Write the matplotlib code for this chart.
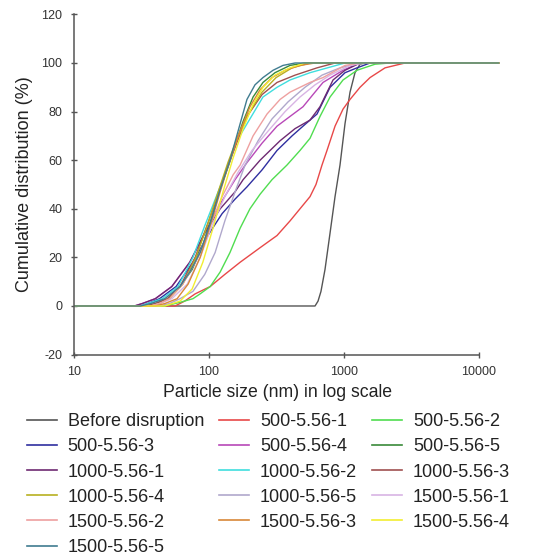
import matplotlib
matplotlib.use("Agg")
import matplotlib.pyplot as plt
from matplotlib.lines import Line2D

plt.rcParams['font.family'] = ['Liberation Sans', 'DejaVu Sans']
plt.rcParams['axes.unicode_minus'] = False

# ---- data (particle size in nm, cumulative distribution in %) ----
before_x = [10, 610, 642, 675, 723, 788, 858, 934, 1017, 1108, 1206, 1314, 1431, 14000]
before_y = [0, 0, 2, 6, 15, 30, 45, 58, 75, 88, 96, 99.5, 100, 100]

s500_1_x = [10, 56, 66, 79, 102, 131, 170, 239, 319, 398, 472, 560, 620, 687, 748, 858, 983, 1108, 1314, 1559, 2013, 2831, 14000]
s500_1_y = [0, 0, 2, 5, 8, 13, 18, 24, 29, 35, 40, 45, 50, 58, 64, 74, 81, 85, 90, 94, 98, 100, 100]

s500_2_x = [10, 47, 61, 76, 86, 102, 121, 143, 170, 201, 239, 293, 378, 472, 560, 664, 788, 983, 1248, 1697, 2191, 14000]
s500_2_y = [0, 0, 1.5, 3, 5, 8, 14, 22, 32, 40, 46, 52, 58, 64, 69, 78, 86, 93, 97, 99.5, 100, 100]

s500_3_x = [10, 31, 35, 43, 57, 76, 98, 125, 156, 191, 247, 319, 412, 497, 631, 788, 1017, 1248, 1559, 14000]
s500_3_y = [0, 0, 1, 3, 8, 18, 29, 38, 44, 49, 56, 64, 70, 74, 79, 90, 96, 98, 100, 100]

s500_4_x = [10, 28, 32, 40, 53, 72, 93, 121, 156, 191, 247, 319, 398, 497, 589, 699, 858, 983, 1314, 14000]
s500_4_y = [0, 0, 1, 3, 8, 18, 30, 42, 52, 59, 67, 74, 78, 82, 87, 92, 95, 97, 100, 100]

s500_5_x = [10, 34, 40, 50, 61, 75, 90, 107, 127, 151, 179, 212, 251, 308, 398, 514, 14000]
s500_5_y = [0, 0, 1, 3, 8, 15, 25, 38, 52, 64, 76, 86, 92, 96, 99, 100, 100]

s1000_1_x = [10, 28, 32, 40, 53, 72, 93, 121, 156, 179, 239, 336, 434, 560, 664, 829, 1017, 1314, 14000]
s1000_1_y = [0, 0, 1, 3, 8, 18, 30, 40, 47, 52, 60, 68, 73, 76.5, 82, 93, 97, 100, 100]

s1000_2_x = [10, 31, 35, 45, 59, 76, 93, 115, 138, 161, 201, 251, 319, 398, 560, 699, 1017, 14000]
s1000_2_y = [0, 0, 1, 3, 8, 20, 33, 46, 57, 68, 77, 86, 90, 93, 96, 97.5, 100, 100]

s1000_3_x = [10, 34, 40, 49, 61, 79, 98, 121, 148, 191, 247, 319, 434, 631, 858, 14000]
s1000_3_y = [0, 0, 1, 3, 8, 20, 34, 48, 62, 78, 87, 92, 95, 98, 100, 100]

s1000_4_x = [10, 37, 43, 51, 64, 80, 97, 117, 138, 164, 201, 247, 314, 412, 560, 14000]
s1000_4_y = [0, 0, 1, 3, 9, 20, 33, 47, 59, 70, 80, 88, 94, 98, 100, 100]

s1000_5_x = [10, 43, 51, 61, 76, 93, 111, 131, 156, 185, 231, 293, 385, 514, 687, 934, 1314, 14000]
s1000_5_y = [0, 0, 1, 3, 6, 13, 22, 35, 47, 58, 68, 77, 84, 90, 95, 98, 100, 100]

s1500_1_x = [10, 37, 43, 53, 69, 86, 105, 131, 164, 208, 274, 366, 472, 610, 788, 1108, 1431, 14000]
s1500_1_y = [0, 0, 1, 3, 9, 20, 33, 45, 55, 64, 72, 80, 86, 91, 95, 99, 100, 100]

s1500_2_x = [10, 37, 43, 51, 64, 83, 102, 125, 151, 170, 212, 269, 336, 398, 560, 699, 1017, 1314, 14000]
s1500_2_y = [0, 0, 1, 3, 9, 20, 33, 45, 54, 58, 70, 79, 85, 88, 92, 94, 99, 100, 100]

s1500_3_x = [10, 40, 47, 58, 70, 86, 102, 121, 143, 170, 201, 239, 293, 366, 472, 610, 14000]
s1500_3_y = [0, 0, 1, 3, 9, 20, 33, 47, 60, 72, 82, 89, 94, 97, 99, 100, 100]

s1500_4_x = [10, 47, 61, 75, 90, 107, 127, 151, 179, 212, 251, 308, 398, 514, 14000]
s1500_4_y = [0, 0, 2, 7, 18, 32, 47, 61, 73, 83, 90, 95, 98, 100, 100]

s1500_5_x = [10, 31, 37, 47, 61, 72, 86, 102, 121, 143, 170, 191, 219, 251, 298, 353, 434, 14000]
s1500_5_y = [0, 0, 1, 3, 8, 14, 22, 34, 48, 60, 75, 85, 91, 94, 97, 99, 100, 100]

labels = ['Before disruption', '500-5.56-1', '500-5.56-2', '500-5.56-3', '500-5.56-4',
          '500-5.56-5', '1000-5.56-1', '1000-5.56-2', '1000-5.56-3', '1000-5.56-4',
          '1000-5.56-5', '1500-5.56-1', '1500-5.56-2', '1500-5.56-3', '1500-5.56-4',
          '1500-5.56-5']
xs = [before_x, s500_1_x, s500_2_x, s500_3_x, s500_4_x, s500_5_x, s1000_1_x, s1000_2_x,
      s1000_3_x, s1000_4_x, s1000_5_x, s1500_1_x, s1500_2_x, s1500_3_x, s1500_4_x, s1500_5_x]
ys = [before_y, s500_1_y, s500_2_y, s500_3_y, s500_4_y, s500_5_y, s1000_1_y, s1000_2_y,
      s1000_3_y, s1000_4_y, s1000_5_y, s1500_1_y, s1500_2_y, s1500_3_y, s1500_4_y, s1500_5_y]
colors = ['#555555', '#e84848', '#50dd50', '#2f2fa0', '#b848b8', '#3a8a3a', '#6e2a72', '#40dede',
          '#a05050', '#b8b020', '#b0a8cc', '#d8b4e4', '#eea0a0', '#d88838', '#f2ee30', '#407c90']

xticks = [10, 100, 1000, 10000]
xticklabels = ['10', '100', '1000', '10000']
yticks = [-20, 0, 20, 40, 60, 80, 100, 120]

fig = plt.figure(figsize=(5.59, 5.60), dpi=100)
ax = fig.add_axes([0.1324, 0.3668, 0.7728, 0.6075])

for x, y, c in zip(xs, ys, colors):
    ax.plot(x, y, color=c, lw=1.0)

ax.set_xscale('log')
ax.set_xlim(10, 10 ** 4.2)
ax.set_ylim(-20, 120)
ax.set_xticks(xticks)
ax.set_xticklabels(xticklabels)
ax.xaxis.set_minor_locator(matplotlib.ticker.NullLocator())
ax.set_yticks(yticks)

for side in ['top', 'right']:
    ax.spines[side].set_visible(False)
for side in ['left', 'bottom']:
    ax.spines[side].set_color('#555555')
    ax.spines[side].set_linewidth(1.1)
ax.spines['bottom'].set_bounds(10, 10000)

ax.tick_params(axis='both', direction='inout', length=4.5, width=1.0, color='#555555',
               labelsize=9, labelcolor='#333333', pad=6)

ax.set_xlabel('Particle size (nm) in log scale', fontsize=12.7, color='#222222')
ax.xaxis.set_label_coords(0.472, -0.086)
ax.set_ylabel('Cumulative distribution (%)', fontsize=13, color='#222222')
ax.yaxis.set_label_coords(-0.095, 0.5)

handles = [Line2D([], [], color=c, lw=1.2) for c in colors]
order = [i for k in range(3) for i in range(k, len(labels), 3)]
fig.legend([handles[i] for i in order], [labels[i] for i in order],
           loc='upper left', bbox_to_anchor=(0.0483, 0.262), ncol=3, frameon=False,
           fontsize=13.0, handlelength=1.65, handletextpad=0.6, columnspacing=0.85,
           labelspacing=0.45, borderpad=0, borderaxespad=0,
           labelcolor='#222222')

fig.savefig('out.png', dpi=100)
